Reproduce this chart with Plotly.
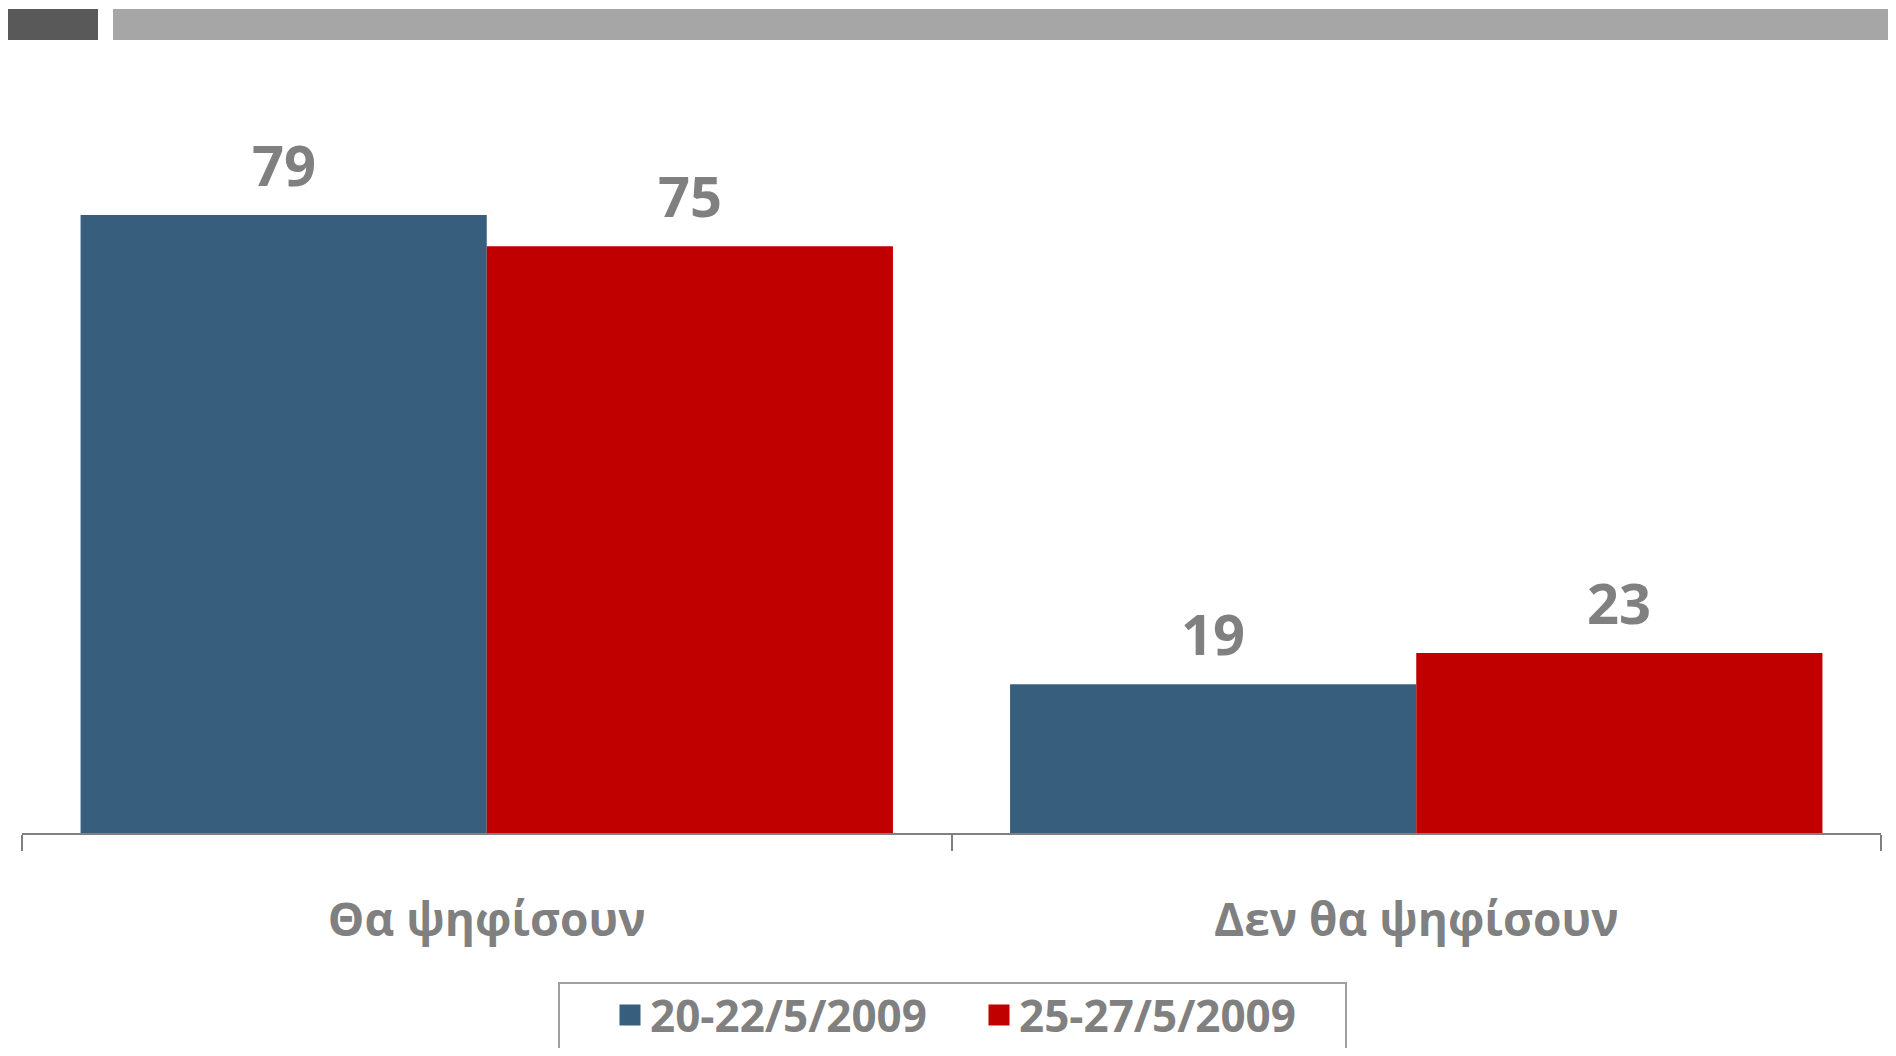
import plotly.graph_objects as go

# the page body adds an 8px margin, so the figure is a bit smaller than the window
W, H = 1880, 1040
PAGE_OFF = 8
M_L, M_R, M_T, M_B = 14, 7, 92, 215

categories = ["Θα ψηφίσουν", "Δεν θα ψηφίσουν"]
series_names = ["20-22/5/2009", "25-27/5/2009"]
values_first = [79, 19]
values_second = [75, 23]

BLUE = "#375E7D"
RED = "#C00000"
GRAY = "#808080"
FONT = "Open Sans"
BARGAP = 0.126
Y_MAX = 93.7

fig = go.Figure()
fig.add_trace(go.Bar(x=categories, y=values_first, name=series_names[0], marker_color=BLUE,
                     marker_line_width=0, showlegend=False))
fig.add_trace(go.Bar(x=categories, y=values_second, name=series_names[1], marker_color=RED,
                     marker_line_width=0, showlegend=False))

# legend entries with bigger square swatches
for name, col in zip(series_names, (BLUE, RED)):
    fig.add_trace(go.Scatter(x=[None], y=[None], mode="markers", name=name,
                             marker=dict(symbol="square", size=16, color=col,
                                         line=dict(color=col, width=5))))

# value labels above bars (offset of each bar inside its group follows from the bargap)
off = (1 - BARGAP) / 4
for i in range(len(categories)):
    for vals, dx in ((values_first, -off), (values_second, off)):
        fig.add_annotation(
            x=i + dx, y=vals[i], text=f"<b>{vals[i]}</b>", showarrow=False,
            yanchor="bottom", yshift=11, font=dict(family=FONT, size=56, color=GRAY),
        )

pw = W - M_L - M_R
ph = H - M_T - M_B


def px_x(p):
    return (p - PAGE_OFF - M_L) / pw


def px_y(p):
    return (H - M_B - (p - PAGE_OFF)) / ph


# decorative header strips
fig.add_shape(type="rect", xref="paper", yref="paper", x0=px_x(0), x1=px_x(98),
              y0=px_y(40), y1=px_y(9), fillcolor="#595959", line_width=0)
fig.add_shape(type="rect", xref="paper", yref="paper", x0=px_x(113), x1=px_x(1900),
              y0=px_y(40), y1=px_y(9), fillcolor="#A6A6A6", line_width=0)

# legend frame, open at the bottom edge of the page
bx0, bx1, by0, by1 = px_x(559), px_x(1346), px_y(983), px_y(1070)
fig.add_shape(type="path", xref="paper", yref="paper",
              path=f"M {bx0},{by1} L {bx0},{by0} L {bx1},{by0} L {bx1},{by1}",
              line=dict(color="#A0A0A0", width=2))

fig.update_layout(
    width=W, height=H,
    margin=dict(l=M_L, r=M_R, t=M_T, b=M_B, autoexpand=False),
    plot_bgcolor="white", paper_bgcolor="white",
    barmode="group", bargap=BARGAP, bargroupgap=0,
    font=dict(family=FONT, color=GRAY),
    legend=dict(
        orientation="h", x=px_x(610), xanchor="left", y=px_y(980), yanchor="top",
        font=dict(family=FONT, size=44, color=GRAY, weight="bold"),
        borderwidth=0, entrywidth=324, bgcolor="rgba(0,0,0,0)",
    ),
)
fig.update_xaxes(
    showline=True, linecolor=GRAY, linewidth=2,
    ticks="outside", tickson="boundaries", ticklen=16, tickcolor=GRAY, tickwidth=2,
    tickfont=dict(family=FONT, size=46, color=GRAY, weight="bold"),
    ticklabelstandoff=46, showgrid=False,
)
fig.update_yaxes(range=[0, Y_MAX], visible=False, showgrid=False)

fig.write_html("out.html")
